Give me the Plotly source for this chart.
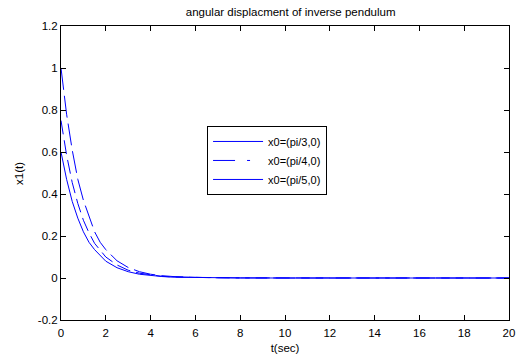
import plotly.graph_objects as go

# time (s)
t = [0, 0.25, 0.5, 0.75, 1, 1.25, 1.5, 1.75, 2, 2.5, 3, 3.5, 4, 4.5, 5, 6, 7, 8, 10, 12, 14, 16, 18, 20]
# x1(t) for three initial conditions
y_pi3 = [1.00, 0.78, 0.61, 0.47, 0.37, 0.29, 0.22, 0.17, 0.135, 0.082, 0.050, 0.030, 0.018, 0.011, 0.007, 0.003, 0.001, 0.0005, 0, 0, 0, 0, 0, 0]
y_pi4 = [0.75, 0.585, 0.455, 0.355, 0.275, 0.215, 0.165, 0.13, 0.100, 0.062, 0.037, 0.023, 0.014, 0.008, 0.005, 0.002, 0.001, 0.0004, 0, 0, 0, 0, 0, 0]
y_pi5 = [0.60, 0.47, 0.365, 0.285, 0.22, 0.17, 0.135, 0.105, 0.080, 0.049, 0.030, 0.018, 0.011, 0.007, 0.004, 0.002, 0.001, 0.0003, 0, 0, 0, 0, 0, 0]
names = ["x0=(pi/3,0)", "x0=(pi/4,0)", "x0=(pi/5,0)"]
x_ticks = list(range(0, 21, 2))
y_ticks = [-0.2, 0, 0.2, 0.4, 0.6, 0.8, 1, 1.2]
y_tick_text = ["-0.2", "0", "0.2", "0.4", "0.6", "0.8", "1", "1.2"]

BLUE = "rgb(0,0,255)"
FONT = "Liberation Sans, Arial, sans-serif"

fig = go.Figure()
plot_dashes = ["22px,6px", "14px,6px", "solid"]
legend_dashes = ["solid", "22px,12px,3px,20px", "solid"]
for ys, d in zip([y_pi3, y_pi4, y_pi5], plot_dashes):
    fig.add_trace(go.Scatter(x=t, y=ys, mode="lines", showlegend=False,
                             line=dict(color=BLUE, width=1, dash=d)))
for n, d in zip(names, legend_dashes):
    fig.add_trace(go.Scatter(x=[None], y=[None], mode="lines", name=n,
                             line=dict(color=BLUE, width=1, dash=d)))

axis_common = dict(showline=True, linecolor="black", linewidth=1, mirror="ticks",
                   ticks="inside", ticklen=5, tickcolor="black", showgrid=False,
                   zeroline=False, automargin=False,
                   tickfont=dict(family=FONT, size=11.5, color="black"))

fig.update_layout(
    width=519, height=354,
    margin=dict(l=61, r=10, t=26, b=34),
    paper_bgcolor="white", plot_bgcolor="white",
    font=dict(family=FONT, size=11, color="black"),
    title=dict(text="angular displacment of inverse pendulum", x=0.56, xanchor="center",
               y=0.965, yanchor="middle", font=dict(family=FONT, size=11.5, color="black")),
    xaxis=dict(range=[0, 20], tickvals=x_ticks, ticklabelstandoff=2,
               title=dict(text="t(sec)", standoff=6, font=dict(family=FONT, size=11.5)), **axis_common),
    yaxis=dict(range=[-0.2, 1.2], tickvals=y_ticks, ticktext=y_tick_text, **axis_common),
    legend=dict(x=0.326, y=0.66, xanchor="left", yanchor="top", bgcolor="white",
                bordercolor="black", borderwidth=1, itemwidth=50,
                font=dict(family=FONT, size=11, color="black"), tracegroupgap=0),
    annotations=[dict(text="x1(t)", xref="paper", yref="paper", x=-0.094, y=0.5,
                      xanchor="center", yanchor="middle", textangle=-90, showarrow=False,
                      font=dict(family=FONT, size=11.5, color="black"))],
)

fig.write_html("out.html")
